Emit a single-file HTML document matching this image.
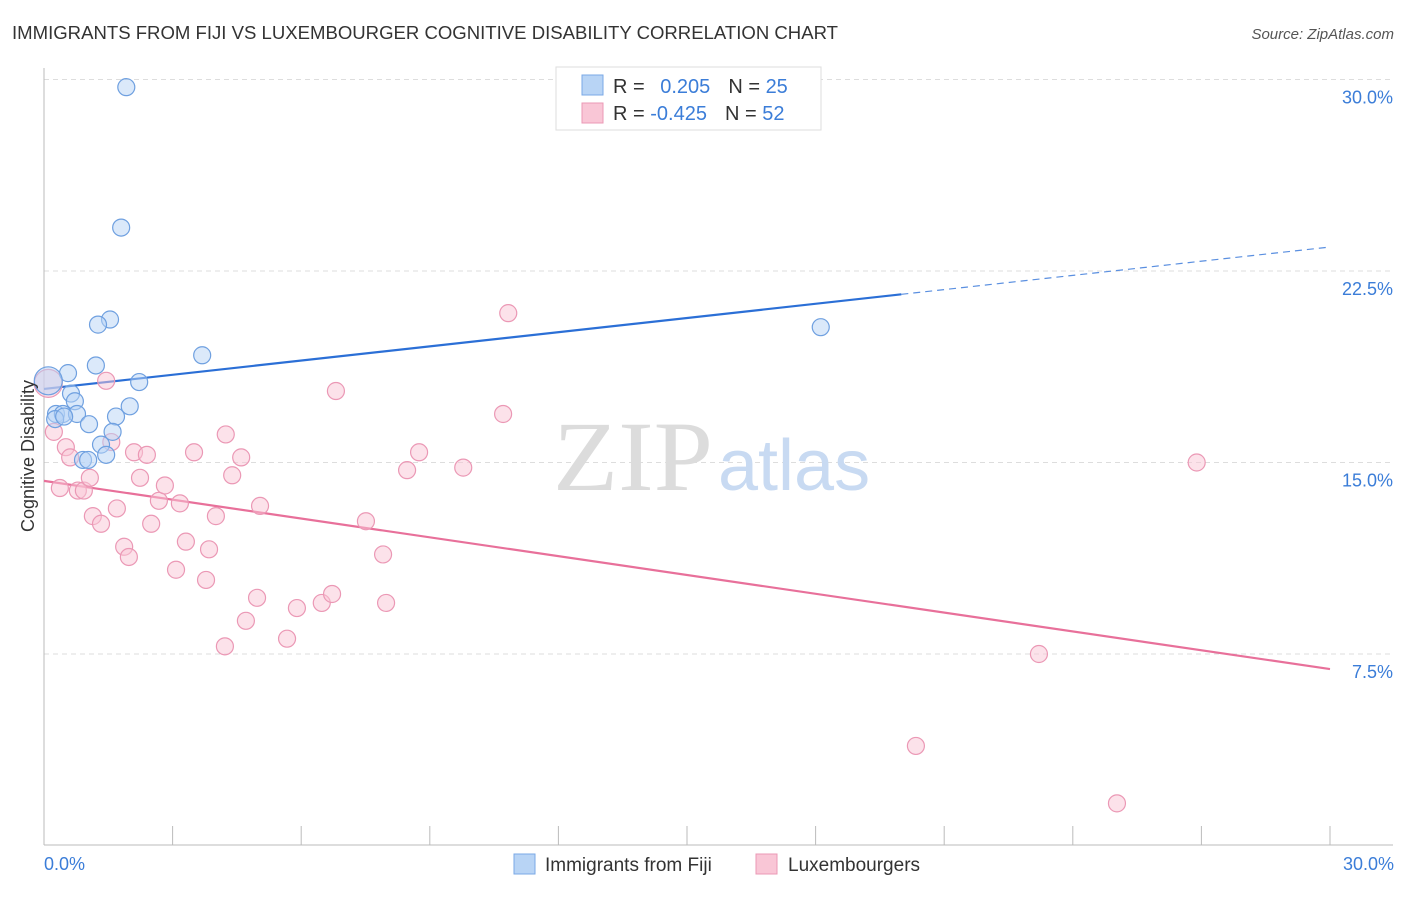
<!DOCTYPE html>
<html><head><meta charset="utf-8"><style>
body{margin:0;background:#fff;font-family:"Liberation Sans",sans-serif;}
svg text{font-family:"Liberation Sans",sans-serif;}
svg text.serif{font-family:"Liberation Serif",serif;}
</style></head><body>
<svg id="chart" width="1406" height="892">
<text x="12" y="39" font-size="18" fill="#333" textLength="826" lengthAdjust="spacingAndGlyphs">IMMIGRANTS FROM FIJI VS LUXEMBOURGER COGNITIVE DISABILITY CORRELATION CHART</text>
<text x="1394" y="39" font-size="15" fill="#555" font-style="italic" text-anchor="end">Source: ZipAtlas.com</text>
<g id="grid"></g>
<text class="serif" x="553" y="490" font-size="100" fill="#dcdcdc" textLength="160" lengthAdjust="spacingAndGlyphs">ZIP</text>
<text x="718" y="490" font-size="72" fill="#c8daf2">atlas</text>
<g id="axes"></g>
<g id="lines"></g>
<g id="points"></g>
<text transform="translate(34,456) rotate(-90)" font-size="18" fill="#333" text-anchor="middle">Cognitive Disability</text>
<text x="44" y="870" font-size="18" fill="#3b7dd8">0.0%</text>
<text x="1394" y="870" font-size="18" fill="#3b7dd8" text-anchor="end">30.0%</text>
<g>
<rect x="556" y="67" width="265" height="63" fill="#fff" stroke="#ddd"/>
<rect x="582" y="75" width="21" height="20" fill="#b8d4f5" stroke="#7aa8e6"/>
<rect x="582" y="103" width="21" height="20" fill="#f9c6d6" stroke="#eb98b5"/>
<text x="613" y="93" font-size="20" fill="#333">R = <tspan fill="#3b7dd8" dx="10">0.205</tspan><tspan dx="18" fill="#333">N = </tspan><tspan fill="#3b7dd8">25</tspan></text>
<text x="613" y="120" font-size="20" fill="#333">R = <tspan fill="#3b7dd8">-0.425</tspan><tspan dx="18" fill="#333">N = </tspan><tspan fill="#3b7dd8">52</tspan></text>
</g>
<g>
<rect x="514" y="854" width="21" height="20" fill="#b8d4f5" stroke="#7aa8e6"/>
<text x="545" y="871" font-size="19" fill="#333">Immigrants from Fiji</text>
<rect x="756" y="854" width="21" height="20" fill="#f9c6d6" stroke="#eb98b5"/>
<text x="788" y="871" font-size="19" fill="#333">Luxembourgers</text>
</g>
</svg>
<script>
const yTicks=[7.5,15,22.5,30];
const yTickLabels=["7.5%","15.0%","22.5%","30.0%"];
const xTicks=[0,3,6,9,12,15,18,21,24,27,30];
const fijiX=[1.92,1.80,1.54,1.26,1.21,3.69,2.22,0.56,0.63,0.72,2.0,0.28,0.44,0.77,1.68,0.26,1.05,1.60,1.33,1.45,0.91,1.03,18.12,0.47,0.1];
const fijiY=[29.7,24.2,20.6,20.4,18.8,19.2,18.15,18.5,17.7,17.4,17.2,16.9,16.9,16.9,16.8,16.7,16.5,16.2,15.7,15.3,15.1,15.1,20.3,16.8,18.2];
const luxX=[0.1,0.23,0.51,0.61,0.37,0.79,0.93,1.07,1.14,1.33,1.45,1.57,1.70,1.87,1.98,2.10,2.24,2.40,2.50,2.68,2.82,3.08,3.17,3.31,3.50,3.78,3.85,4.01,4.24,4.22,4.39,4.60,4.71,4.97,5.04,5.67,5.90,6.48,6.72,6.81,7.51,7.91,7.98,8.47,8.75,9.78,10.71,10.83,20.34,23.21,25.03,26.89];
const luxY=[18.1,16.2,15.6,15.2,14.0,13.9,13.9,14.4,12.9,12.6,18.2,15.8,13.2,11.7,11.3,15.4,14.4,15.3,12.6,13.5,14.1,10.8,13.4,11.9,15.4,10.4,11.6,12.9,16.1,7.8,14.5,15.2,8.8,9.7,13.3,8.1,9.3,9.5,9.85,17.8,12.7,11.4,9.5,14.7,15.4,14.8,16.9,20.85,3.9,7.5,1.65,15.0];
const fijiTrend=[17.88,23.44];
const luxTrend=[14.28,6.91];
const fijiSolidEnd=20;

const X=v=>44+v*(1286/30);
const Y=v=>845.5-v*(191.5/7.5);
const NS="http://www.w3.org/2000/svg";
function mk(tag,attrs,parent){const e=document.createElementNS(NS,tag);for(const k in attrs)e.setAttribute(k,attrs[k]);document.getElementById(parent).appendChild(e);return e;}

yTicks.forEach((t,i)=>{
  const g=mk('line',{x1:44,x2:1393,y1:Y(t),y2:Y(t),stroke:'#ddd','stroke-dasharray':'5,4'},'grid');
  
  
  const l=mk('text',{x:1393,y:Y(t)+24,'font-size':18,fill:'#3b7dd8','text-anchor':'end'},'grid');
  l.textContent=yTickLabels[i];
  
  
});
let a=mk('line',{x1:44,x2:44,y1:68,y2:845,stroke:'#bbb'},'axes');


a=mk('line',{x1:44,x2:1393,y1:845,y2:845,stroke:'#bbb'},'axes');


xTicks.forEach(t=>{
  const e=mk('line',{x1:X(t),x2:X(t),y1:826,y2:845,stroke:'#bbb'},'axes');
  
  
});
function trendY(tr,v){return tr[0]+(tr[1]-tr[0])*v/30;}
let ln=mk('line',{x1:X(0),y1:Y(fijiTrend[0]),x2:X(fijiSolidEnd),y2:Y(trendY(fijiTrend,fijiSolidEnd)),stroke:'#2b6fd6','stroke-width':2.2},'lines');


ln=mk('line',{x1:X(fijiSolidEnd),y1:Y(trendY(fijiTrend,fijiSolidEnd)),x2:X(30),y2:Y(fijiTrend[1]),stroke:'#5a8fe0','stroke-width':1.2,'stroke-dasharray':'7,5'},'lines');


ln=mk('line',{x1:X(0),y1:Y(luxTrend[0]),x2:X(30),y2:Y(luxTrend[1]),stroke:'#e8709a','stroke-width':2.2},'lines');


luxX.forEach((x,i)=>{
  const c=mk('circle',{cx:X(x),cy:Y(luxY[i]),r:i===0?14:8.5,fill:'#f9c6d6','fill-opacity':0.5,stroke:'#eb98b5','stroke-width':1.2},'points');
  
  
});
fijiX.forEach((x,i)=>{
  const c=mk('circle',{cx:X(x),cy:Y(fijiY[i]),r:i===fijiX.length-1?14:8.5,fill:'#b8d4f5','fill-opacity':0.5,stroke:'#6fa0e0','stroke-width':1.2},'points');
  
  
});
</script>
</body></html>
